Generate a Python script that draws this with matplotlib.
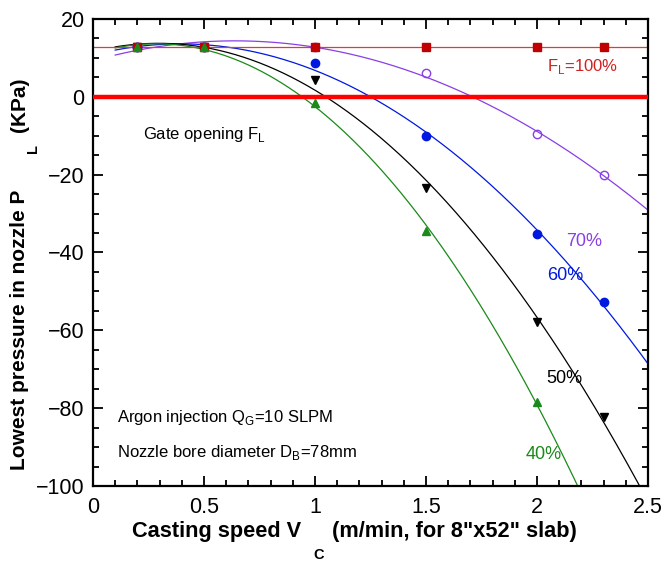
import numpy as np
import matplotlib
matplotlib.use("Agg")
import matplotlib.pyplot as plt
from matplotlib.ticker import MultipleLocator

plt.rcParams['font.family'] = ['Liberation Sans', 'DejaVu Sans']
plt.rcParams['mathtext.fontset'] = 'custom'
plt.rcParams['mathtext.rm'] = 'Liberation Sans'

speed = [0.2, 0.5, 1.0, 1.5, 2.0, 2.3]
p100 = [12.8, 12.8, 12.8, 12.8, 12.8, 12.8]
p70 = [12.8, 12.8, 12.8, 6.1, -9.6, -20.1]
p60 = [12.8, 12.8, 8.7, -10.1, -35.3, -52.8]
p50 = [12.8, 12.8, 4.3, -23.4, -57.9, -82.3]
speed40 = [0.2, 0.5, 1.0, 1.5, 2.0]
p40 = [12.8, 12.8, -1.6, -34.5, -78.5]

W, H = 666, 565
fig = plt.figure(figsize=(W / 100, H / 100), dpi=100)
ax = fig.add_axes([93 / W, 1 - 486 / H, 555 / W, 467 / H])

xx = np.linspace(0.1, 2.5, 400)

def fitcurve(x, y, color, deg=2):
    c = np.polyfit(x, y, deg)
    yy = np.polyval(c, xx)
    ax.plot(xx, yy, color=color, lw=0.9, zorder=2)

C70, C60, C50, C40 = '#8a3ee6', '#0018e0', 'black', '#1a8a1a'
fitcurve(speed, p70, C70)
fitcurve(speed, p60, C60)
fitcurve(speed, p50, C50)
fitcurve(speed40, p40, C40)
ax.plot([0.0, 2.5], [p100[0], p100[0]], color='#e03a3a', lw=0.9, zorder=2)

ax.axhline(0, color='#ff0000', lw=3.2, zorder=3)

ax.plot(speed, p70, 'o', mfc='none', mec=C70, ms=6, mew=1.0, zorder=4)
ax.plot(speed, p60, 'o', color=C60, ms=6, zorder=4)
ax.plot(speed, p50, 'v', color=C50, ms=5.5, zorder=4)
ax.plot(speed, p100, 's', color='#c00000', ms=6, zorder=4)
ax.plot(speed40, p40, '^', color=C40, ms=5.5, zorder=5)

ax.set_xlim(0, 2.5)
ax.set_ylim(-100, 20)
ax.xaxis.set_minor_locator(MultipleLocator(0.1))
ax.yaxis.set_major_locator(MultipleLocator(20))
ax.yaxis.set_minor_locator(MultipleLocator(5))
ax.set_xticks([0, 0.5, 1, 1.5, 2, 2.5])
ax.set_xticklabels(['0', '0.5', '1', '1.5', '2', '2.5'])
ax.tick_params(which='both', direction='in', top=True, right=True, labelsize=15.5, width=1.3)
ax.tick_params(which='major', length=7)
ax.tick_params(which='minor', length=4)
ax.tick_params(axis='x', which='major', pad=8)
ax.tick_params(axis='y', which='major', pad=6)
for s in ax.spines.values():
    s.set_linewidth(1.6)

# axis labels (with the displaced subscripts of the original)
fig.text(132 / W, 1 - 537 / H, 'Casting speed V', fontsize=15.7, fontweight='bold', ha='left', va='baseline')
fig.text(319 / W, 1 - 559 / H, 'C', fontsize=10.5, fontweight='bold', ha='center', va='baseline')
fig.text(332 / W, 1 - 537 / H, '(m/min, for 8"x52" slab)', fontsize=15.7, fontweight='bold', ha='left', va='baseline')

fig.text(25 / W, 1 - 470 / H, 'Lowest pressure in nozzle P', fontsize=15, fontweight='bold',
         rotation=90, rotation_mode='anchor', ha='left', va='baseline')
fig.text(37 / W, 1 - 153 / H, 'L', fontsize=10.5, fontweight='bold',
         rotation=90, rotation_mode='anchor', ha='left', va='baseline')
fig.text(25 / W, 1 - 132 / H, '(KPa)', fontsize=15, fontweight='bold',
         rotation=90, rotation_mode='anchor', ha='left', va='baseline')

ax.text(2.045, 7.7, 'F$_{\\mathrm{L}}$=100%', color='#d02020', fontsize=12, va='center')
ax.text(2.13, -37.3, '70%', color=C70, fontsize=13, va='center')
ax.text(2.045, -45.8, '60%', color=C60, fontsize=13, va='center')
ax.text(2.04, -72.5, '50%', color=C50, fontsize=13, va='center')
ax.text(1.95, -91.8, '40%', color=C40, fontsize=13, va='center')
ax.text(0.225, -9.8, 'Gate opening F$_{\\mathrm{L}}$', color='black', fontsize=12, va='center')
ax.text(0.108, -82.5, 'Argon injection Q$_{\\mathrm{G}}$=10 SLPM', color='black', fontsize=12, va='center')
ax.text(0.108, -91.3, 'Nozzle bore diameter D$_{\\mathrm{B}}$=78mm', color='black', fontsize=12, va='center')

fig.savefig('out.png', dpi=100)
